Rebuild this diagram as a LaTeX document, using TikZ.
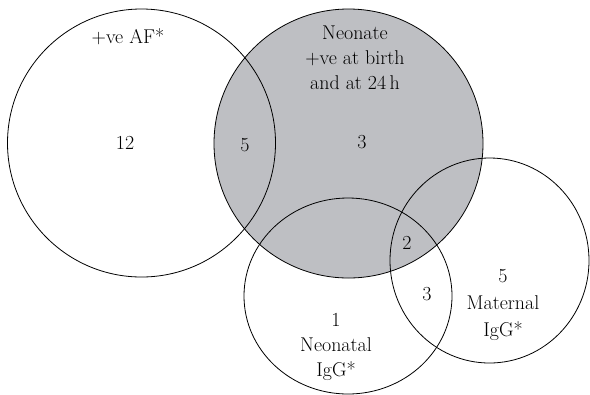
\documentclass[tikz,border=0pt]{standalone}
\usetikzlibrary{shapes.geometric}
\definecolor{venngray}{RGB}{190,191,195}
\begin{document}
\begin{tikzpicture}[x=1bp,y=-1bp,
  ring/.style={draw=black,line width=0.8bp},
  lbl/.style={font=\fontsize{20}{25}\selectfont,align=center,inner sep=0pt}]
\useasboundingbox (0,0) rectangle (590,394);
\fill[venngray] (348.5,143.5) circle[radius=134.5];
\draw[ring] (141.5,143) circle[radius=134];
\draw[ring] (348.5,143.5) circle[radius=134.5];
\draw[ring] (348,296) ellipse[x radius=104,y radius=98];
\draw[ring] (489.5,260.5) ellipse[x radius=99.5,y radius=102.5];
\node[lbl] (af) at (128,37) {+ve AF*};
\node[lbl] (n12) at (125,143) {12};
\node[lbl] (n5a) at (245,145) {5};
\node[lbl] (neo) at (355,58) {Neonate\\+ve at birth\\and at 24\,h};
\node[lbl] (n3a) at (362,142) {3};
\node[lbl] (n2) at (407,243) {2};
\node[lbl] (n3b) at (427,294) {3};
\node[lbl,font=\fontsize{20}{27}\selectfont] (mat) at (503,305) {5\\Maternal\\IgG*};
\node[lbl] (neoig) at (336,347) {1\\Neonatal\\IgG*};
\end{tikzpicture}
\end{document}
